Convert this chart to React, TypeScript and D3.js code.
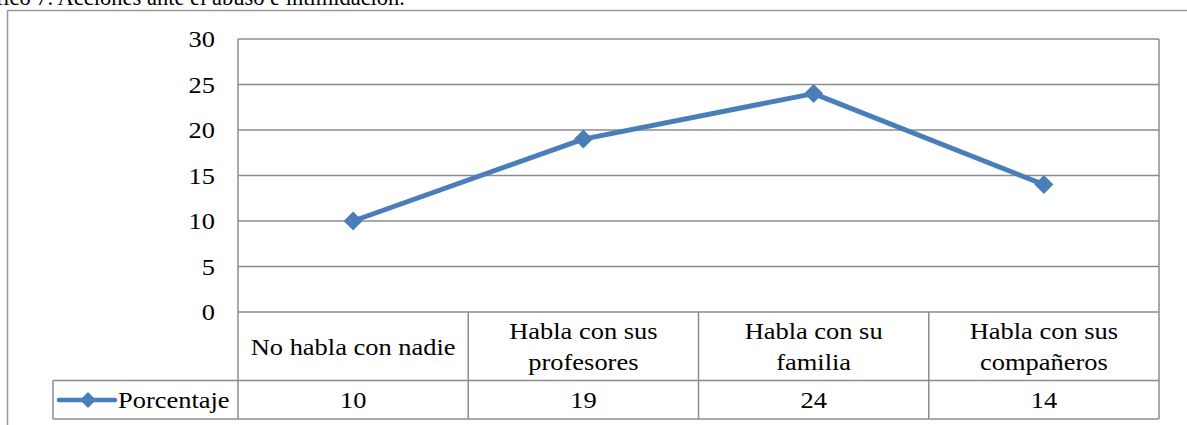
import React from "react";
import * as d3 from "d3";

const categories: string[][] = [
  ["No habla con nadie"],
  ["Habla con sus", "profesores"],
  ["Habla con su", "familia"],
  ["Habla con sus", "compañeros"],
];
const values: number[] = [10, 19, 24, 14];
const yTicks: number[] = [0, 5, 10, 15, 20, 25, 30];
const seriesName = "Porcentaje";
const title = "Gráfico 7. Acciones ante el abuso e intimidación.";

const W = 1187;
const H = 425;
const FONT = "Liberation Serif, 'Times New Roman', serif";
const FS = 23;
const SX = 1.15;
const BLUE = "#4a7ebb";
const GRID = "#8c8c8c";

function T({ x, y, anchor = "middle", size = FS, sx = SX, children }: { x: number; y: number; anchor?: string; size?: number; sx?: number; children: React.ReactNode }) {
  return (
    <text
      transform={`translate(${x},${y}) scale(${sx},1)`}
      textAnchor={anchor as any}
      style={{ fontFamily: FONT, fontSize: size }}
      fill="#000"
    >
      {children}
    </text>
  );
}

export default function App() {
  const left = 238;
  const right = 1159;
  const top = 39;
  const zeroY = 312;
  const rowDiv = 380.5;
  const bottom = 419;
  const legendLeft = 53;

  const x = d3
    .scaleBand<number>()
    .domain(d3.range(categories.length))
    .range([left, right])
    .paddingInner(0)
    .paddingOuter(0);
  const y = d3.scaleLinear().domain([0, 30]).range([zeroY, top]);

  const pts: [number, number][] = values.map((v, i) => [x(i)! + x.bandwidth() / 2, y(v)]);
  const line = d3.line()(pts) || "";
  const diamond = (cx: number, cy: number, r: number) =>
    `M${cx},${cy - r}L${cx + r},${cy}L${cx},${cy + r}L${cx - r},${cy}Z`;

  return (
    <div style={{ position: "absolute", left: 0, top: 0 }}>
      <svg width={W} height={H} style={{ display: "block" }}>
        <rect width={W} height={H} fill="#fff" />
        {/* title, cut at top as in the source image */}
        <T x={405} y={5} anchor="end" size={22.5} sx={1}>{title}</T>
        {/* outer frame */}
        <path d={`M7.5,${H + 5}V10.5H${W + 5}`} fill="none" stroke="#9a9a9a" strokeWidth={1.5} />

        {/* gridlines */}
        {yTicks.map((t) => (
          <line key={t} x1={left} x2={right} y1={y(t)} y2={y(t)} stroke={GRID} strokeWidth={1.5} />
        ))}
        {/* y tick labels */}
        {yTicks.map((t) => (
          <T key={"l" + t} x={215} y={y(t) + 8} anchor="end">{t}</T>
        ))}

        {/* table */}
        <line x1={left} x2={left} y1={top} y2={bottom} stroke={GRID} strokeWidth={1.5} />
        <line x1={right} x2={right} y1={top} y2={bottom} stroke={GRID} strokeWidth={1.5} />
        {d3.range(1, categories.length).map((i) => (
          <line key={"v" + i} x1={x(i)!} x2={x(i)!} y1={zeroY} y2={bottom} stroke={GRID} strokeWidth={1.5} />
        ))}
        <line x1={legendLeft} x2={right} y1={rowDiv} y2={rowDiv} stroke={GRID} strokeWidth={1.5} />
        <line x1={legendLeft} x2={right} y1={bottom} y2={bottom} stroke={GRID} strokeWidth={1.5} />
        <line x1={legendLeft} x2={legendLeft} y1={rowDiv} y2={bottom} stroke={GRID} strokeWidth={1.5} />

        {categories.map((lines, i) => {
          const cx = x(i)! + x.bandwidth() / 2;
          if (lines.length === 1) {
            return <T key={"c" + i} x={cx} y={355}>{lines[0]}</T>;
          }
          return (
            <g key={"c" + i}>
              <T x={cx} y={339}>{lines[0]}</T>
              <T x={cx} y={370}>{lines[1]}</T>
            </g>
          );
        })}
        {values.map((v, i) => (
          <T key={"val" + i} x={x(i)! + x.bandwidth() / 2} y={408}>{v}</T>
        ))}

        {/* legend */}
        <line x1={59} x2={115} y1={400} y2={400} stroke={BLUE} strokeWidth={4.5} strokeLinecap="round" />
        <path d={diamond(88, 400, 8)} fill={BLUE} />
        <T x={118} y={408} anchor="start">{seriesName}</T>

        {/* series */}
        <path d={line} fill="none" stroke={BLUE} strokeWidth={5} strokeLinejoin="round" />
        {pts.map(([px, py], i) => (
          <path key={"m" + i} d={diamond(px, py, 9.5)} fill={BLUE} />
        ))}
      </svg>
    </div>
  );
}
